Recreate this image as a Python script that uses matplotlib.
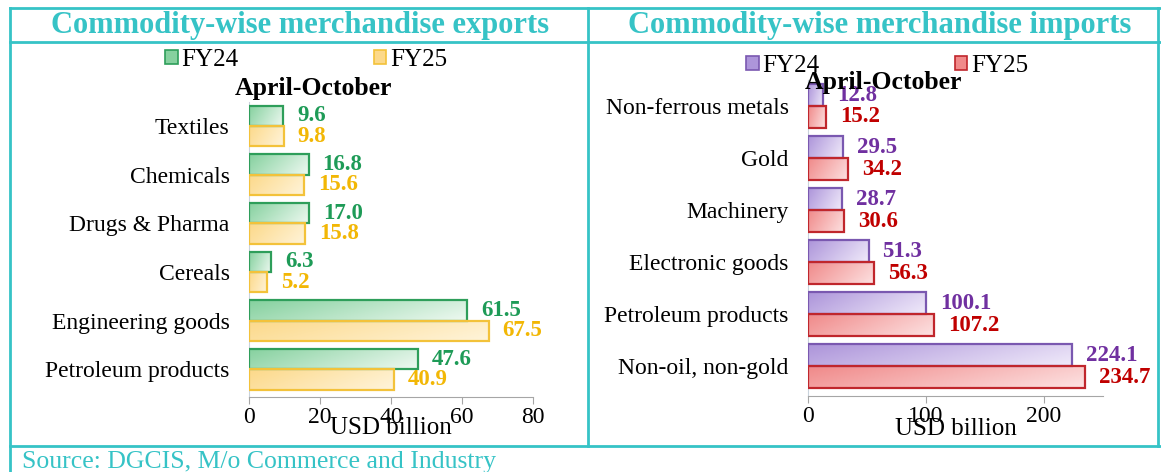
import numpy as np
import matplotlib.pyplot as plt
from matplotlib.colors import LinearSegmentedColormap
from matplotlib.lines import Line2D
from matplotlib.patches import Patch

plt.rcParams['font.family'] = ['Liberation Serif', 'DejaVu Serif']

W, H = 1161, 472

export_items = ['Textiles', 'Chemicals', 'Drugs & Pharma', 'Cereals',
                'Engineering goods', 'Petroleum products']
export_fy24 = [9.6, 16.8, 17.0, 6.3, 61.5, 47.6]
export_fy25 = [9.8, 15.6, 15.8, 5.2, 67.5, 40.9]

import_items = ['Non-ferrous metals', 'Gold', 'Machinery', 'Electronic goods',
                'Petroleum products', 'Non-oil, non-gold']
import_fy24 = [12.8, 29.5, 28.7, 51.3, 100.1, 224.1]
import_fy25 = [15.2, 34.2, 30.6, 56.3, 107.2, 234.7]

teal = '#36c3c6'


def px(x, y):
    return x / W, 1 - y / H


def gradient_bars(ax, bars, dark, light, edge):
    cmap = LinearSegmentedColormap.from_list('g', [dark, light])
    gx, gy = np.meshgrid(np.linspace(0, 1, 64), np.linspace(0, 1, 16))
    grad = 0.75 * gx + 0.25 * gy
    for b in bars:
        x0, y0 = b.get_x(), b.get_y()
        w, h = b.get_width(), b.get_height()
        b.set_facecolor('none')
        b.set_edgecolor(edge)
        b.set_linewidth(1.6)
        b.set_zorder(3)
        im = ax.imshow(grad, cmap=cmap, extent=(x0, x0 + w, y0 + h, y0),
                       aspect='auto', origin='upper', zorder=2, interpolation='bilinear')
        im.set_clip_path(b)


def panel(rect, items, v1, v2, xmax, xticks, styles, label_colors):
    ax = fig.add_axes(rect)
    y = np.arange(len(items))
    h = 0.42
    b1 = ax.barh(y - h / 2, v1, height=h)
    b2 = ax.barh(y + h / 2, v2, height=h)
    gradient_bars(ax, b1, *styles[0])
    gradient_bars(ax, b2, *styles[1])
    for bars, vals, c in ((b1, v1, label_colors[0]), (b2, v2, label_colors[1])):
        for b, v in zip(bars, vals):
            ax.annotate(f'{v:.1f}', (v, b.get_y() + b.get_height() / 2),
                        xytext=(10, 0), textcoords='offset points',
                        ha='left', va='center', fontsize=16.5, fontweight='bold', color=c)
    ax.set_xlim(0, xmax)
    ax.set_ylim(len(items) - 1 + 0.57, -0.5)
    ax.set_yticks(y)
    ax.set_yticklabels(items, fontsize=17)
    ax.set_xticks(xticks)
    ax.tick_params(axis='y', length=0, pad=14)
    ax.tick_params(axis='x', length=5, color='#a6a6a6', labelsize=17, pad=2)
    for s in ('top', 'right'):
        ax.spines[s].set_visible(False)
    ax.spines['left'].set_color('#c9d3dc')
    ax.spines['bottom'].set_color('#a6a6a6')
    ax.set_xlabel('USD billion', fontsize=18)
    ax.xaxis.set_label_coords(0.5, -0.105)
    ax.xaxis.label.set_va('center')
    return ax


fig = plt.figure(figsize=(W / 100, H / 100), dpi=100)

green = ('#86d19f', '#eef9f1', '#2e9e5a')
yellow = ('#fcd98a', '#fff4da', '#f3c23a')
purple = ('#ad95da', '#f0eafa', '#7a58b0')
red = ('#f08a8a', '#fde2e2', '#c0262c')

left_rect = [249 / W, 1 - 397 / H, (533 - 249) / W, (397 - 101.7) / H]
right_rect = [808 / W, 1 - 396 / H, (1103 - 808) / W, (396 - 80) / H]

ax1 = panel(left_rect, export_items, export_fy24, export_fy25, 80, [0, 20, 40, 60, 80],
            (green, yellow), ('#1e9b57', '#f2b705'))
ax2 = panel(right_rect, import_items, import_fy24, import_fy25, 250, [0, 100, 200],
            (purple, red), ('#7030a0', '#c00000'))

# legends
for ax, st, cx, cy in ((ax1, (green, yellow), 306, 60), (ax2, (purple, red), 887, 66)):
    handles = [Patch(facecolor=s[0], edgecolor=s[2], linewidth=1.2) for s in st]
    ax.legend(handles, ['FY24', 'FY25'], loc='center', bbox_to_anchor=px(cx, cy),
              bbox_transform=fig.transFigure, ncol=2, frameon=False, fontsize=18,
              handlelength=0.5, handleheight=0.5, handletextpad=0.15, columnspacing=5.4,
              borderaxespad=0)

fig.text(*px(313, 88), 'April-October', ha='center', va='center', fontsize=18.5, fontweight='bold')
fig.text(*px(883, 82), 'April-October', ha='center', va='center', fontsize=18.5, fontweight='bold')

# titles and frame
fig.text(*px(300, 26), 'Commodity-wise merchandise exports', ha='center', va='center',
         fontsize=22, fontweight='bold', color=teal)
fig.text(*px(880, 26), 'Commodity-wise merchandise imports', ha='center', va='center',
         fontsize=22, fontweight='bold', color=teal)
fig.text(*px(22, 462), 'Source: DGCIS, M/o Commerce and Industry', ha='left', va='center',
         fontsize=18.5, color=teal)

frame = [((10, 8), (1161, 8)), ((10, 42), (1161, 42)), ((10, 8), (10, 472)),
         ((588, 8), (588, 446)), ((10, 446), (1161, 446)), ((1158, 8), (1158, 446))]
for p0, p1 in frame:
    (xa, ya), (xb, yb) = px(*p0), px(*p1)
    fig.add_artist(Line2D([xa, xb], [ya, yb], transform=fig.transFigure,
                          color=teal, linewidth=2))

fig.savefig('out.png', dpi=100)
